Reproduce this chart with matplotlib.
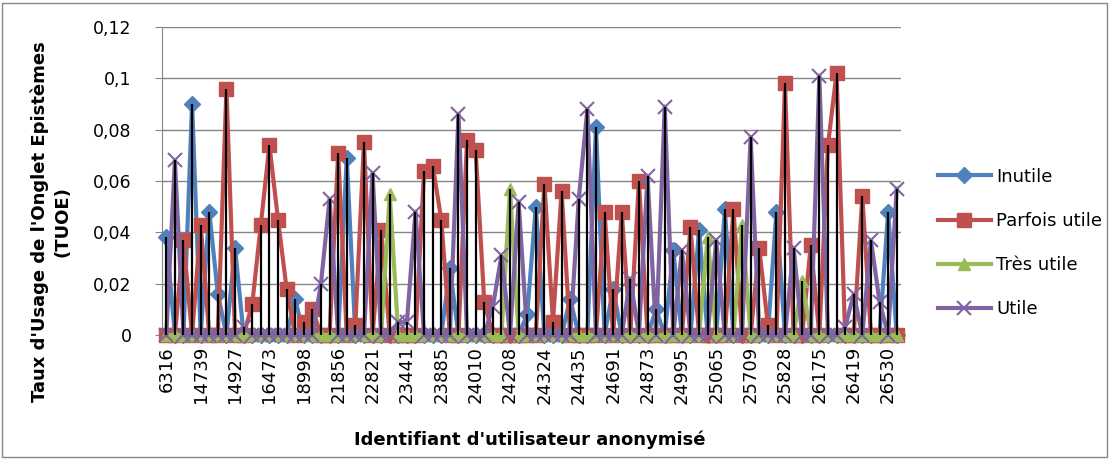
import numpy as np
import matplotlib
matplotlib.use("Agg")
import matplotlib.pyplot as plt
from matplotlib.patches import Rectangle

# one value per anonymised user, and the group that user belongs to
# I = Inutile, P = Parfois utile, T = Très utile, U = Utile
values = [
    0.038, 0.068, 0.037, 0.090, 0.043, 0.048, 0.016, 0.096, 0.034, 0.003,
    0.012, 0.043, 0.074, 0.045, 0.018, 0.014, 0.005, 0.010, 0.020, 0.053,
    0.071, 0.069, 0.004, 0.075, 0.063, 0.041, 0.055, 0.005, 0.005, 0.048,
    0.064, 0.066, 0.045, 0.026, 0.086, 0.076, 0.072, 0.013, 0.011, 0.031,
    0.057, 0.052, 0.008, 0.050, 0.059, 0.005, 0.056, 0.014, 0.053, 0.088,
    0.081, 0.048, 0.018, 0.048, 0.022, 0.060, 0.062, 0.010, 0.089, 0.033,
    0.033, 0.042, 0.041, 0.038, 0.037, 0.049, 0.049, 0.043, 0.077, 0.034,
    0.004, 0.048, 0.098, 0.034, 0.021, 0.035, 0.101, 0.074, 0.102, 0.003,
    0.016, 0.054, 0.037, 0.013, 0.048, 0.057,
]
group = list(
    "IUPIPIIPIU"
    "PPPPPIPPUU"
    "PIPPUPTUUU"
    "PPPIUPPPUU"
    "TUIIPPPIUU"
    "IPIPUPUIUI"
    "UPITUIPTUP"
    "PIPUTPUPPU"
    "UPUUIU"
)
# only every fourth identifier is printed on the axis
shown_ids = ["6316", "14739", "14927", "16473", "18998", "21856", "22821",
             "23441", "23885", "24010", "24208", "24324", "24435", "24691",
             "24873", "24995", "25065", "25709", "25828", "26175", "26419",
             "26530"]

series_names = ["Inutile", "Parfois utile", "Très utile", "Utile"]
series_keys = ["I", "P", "T", "U"]
colors = ["#4F81BD", "#C0504D", "#9BBB59", "#8064A2"]
markers = ["D", "s", "^", "x"]
msizes = [8, 9.5, 9, 10]

vals = np.array(values)
n = len(vals)
x = np.arange(n)

fig = plt.figure(figsize=(11.1, 4.59), dpi=100)
ax = fig.add_axes([162 / 1110, 1 - 335 / 459, (901 - 162) / 1110, (335 - 27) / 459])

for name, key, c, m, ms in zip(series_names, series_keys, colors, markers, msizes):
    y = np.where(np.array(group) == key, vals, 0.0)
    ax.plot(x, y, color=c, lw=3, marker=m, ms=ms, mew=1.5 if m == "x" else 1,
            mec=c, mfc=c, label=name, clip_on=False, zorder=3)

# high-low lines
ax.vlines(x, 0, vals, color="black", lw=1.6, zorder=5)

ax.set_xlim(-0.5, n - 0.5)
ax.set_ylim(0, 0.12)
yt = np.arange(0, 0.121, 0.02)
ax.set_yticks(yt)
ax.set_yticklabels(["0", "0,02", "0,04", "0,06", "0,08", "0,1", "0,12"], fontsize=12.5)
ax.set_xticks(x[::4])
ax.set_xticklabels(shown_ids, rotation=90, fontsize=13)
ax.set_xticks(np.arange(n + 1) - 0.5, minor=True)
ax.tick_params(axis="x", which="major", length=0, pad=8)
ax.tick_params(axis="x", which="minor", length=5, color="#868686")
ax.tick_params(axis="y", length=5, color="#868686", pad=17)

ax.grid(axis="y", color="#868686", lw=1)
ax.set_axisbelow(True)
for s in ["top", "right"]:
    ax.spines[s].set_visible(False)
for s in ["left", "bottom"]:
    ax.spines[s].set_color("#868686")

fig.text(51 / 1110, 1 - 222 / 459, "Taux d'Usage de l'Onglet Epistèmes\n(TUOE)",
         rotation=90, ha="center", va="center", fontsize=13, fontweight="bold",
         linespacing=1.3)
fig.text(530 / 1110, 1 - 440 / 459, "Identifiant d'utilisateur anonymisé",
         ha="center", va="center", fontsize=13, fontweight="bold")

fig.legend(loc="center left", bbox_to_anchor=(922 / 1110, 1 - 243 / 459),
           frameon=False, fontsize=13, labelspacing=1.45, handlelength=2.9,
           handletextpad=0.3)

fig.patches.append(Rectangle((2 / 1110, 2 / 459), 1105 / 1110, 454 / 459,
                             transform=fig.transFigure, fill=False,
                             edgecolor="#868686", lw=1))

plt.savefig("out.png", dpi=100)
